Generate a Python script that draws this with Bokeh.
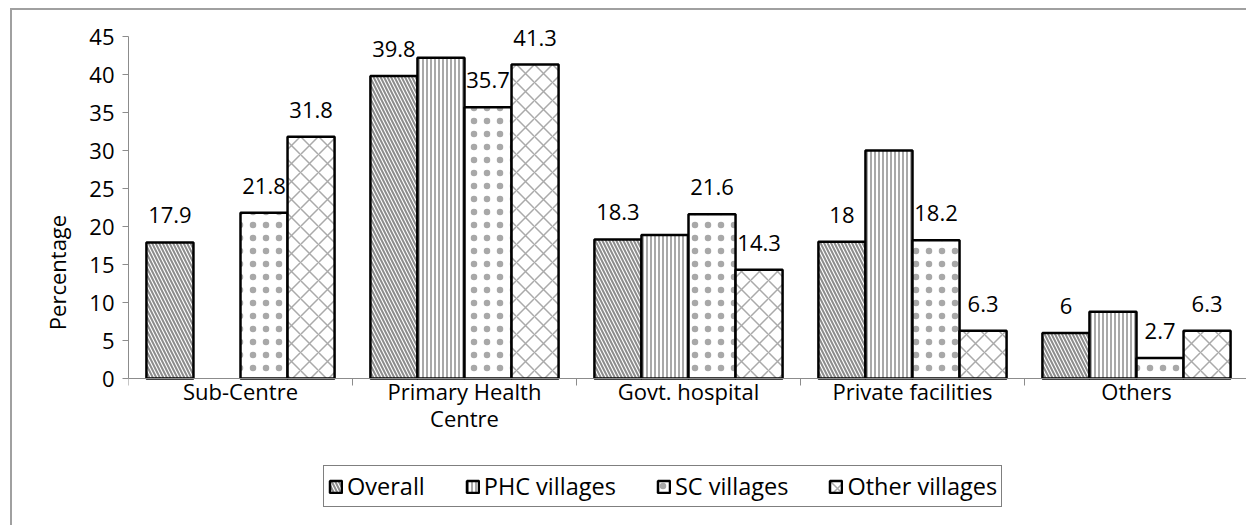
import math
from bokeh.plotting import figure
from bokeh.models import (ColumnDataSource, Range1d, LinearAxis,
                          FixedTicker, Legend, LegendItem, LabelSet)
from bokeh.core.properties import value
from bokeh.transform import dodge
from bokeh.embed import file_html
from bokeh.resources import INLINE

categories = ["Sub-Centre", "Primary Health\nCentre", "Govt. hospital", "Private facilities", "Others"]
overall = [17.9, 39.8, 18.3, 18.0, 6.0]
phc_villages = [float("nan"), 42.2, 18.9, 30.0, 8.8]
sc_villages = [21.8, 35.7, 21.6, 18.2, 2.7]
other_villages = [31.8, 41.3, 14.3, 6.3, 6.3]
series_names = ["Overall", "PHC villages", "SC villages", "Other villages"]
y_ticks = [0, 5, 10, 15, 20, 25, 30, 35, 40, 45]


def fmt(v):
    if isinstance(v, float) and math.isnan(v):
        return ""
    return ("%g" % v)


centers = [i + 0.5 for i in range(len(categories))]
bounds = list(range(len(categories) + 1))
src = ColumnDataSource(dict(
    xc=centers,
    overall=overall, phc=phc_villages, sc=sc_villages, other=other_villages,
    overall_lbl=[fmt(v) for v in overall],
    sc_lbl=[fmt(v) for v in sc_villages],
    other_lbl=[fmt(v) for v in other_villages],
))

FONT = "Open Sans"
FS = "22px"
W = 0.21
GRAY = "#8c8c8c"

# the frame runs below zero so that the category labels and legend sit inside it
p = figure(x_range=Range1d(0, len(categories)), y_range=Range1d(-19.6, 47.5),
           width=1236, height=517, output_backend="svg", toolbar_location=None,
           x_axis_location=None, y_axis_location=None,
           min_border_left=116, min_border_right=0, min_border_top=7, min_border_bottom=0)
p.outline_line_color = None
p.xgrid.visible = False
p.ygrid.visible = False
p.styles = {"margin-left": "10px", "margin-top": "8px",
            "border-left": "2px solid #a0a0a0", "border-top": "2px solid #a0a0a0"}

specs = [
    ("overall", -1.5 * W, "\\", 7, 2.0, "#8c8c8c"),
    ("phc", -0.5 * W, "|", 4, 1.5, "#8c8c8c"),
    ("sc", 0.5 * W, ".", 13, 0.6, "#a8a8a8"),
    ("other", 1.5 * W, "x", 18, 1.5, "#aaaaaa"),
]
renderers = []
for col, off, hp, hs, hw, hc in specs:
    r = p.vbar(x=dodge("xc", off), top=col, width=W, source=src,
               fill_color="white", line_color="black", line_width=2.5,
               hatch_pattern=hp, hatch_scale=hs, hatch_weight=hw, hatch_color=hc)
    renderers.append(r)

for col, off in [("overall", -1.5 * W), ("sc", 0.5 * W), ("other", 1.5 * W)]:
    lbl = LabelSet(x=dodge("xc", off), y=col, text=col + "_lbl", source=src,
                   text_align="center", text_baseline="middle", y_offset=27,
                   text_font=value(FONT), text_font_size=value(FS), text_color="black")
    p.add_layout(lbl)

# y axis
yax = LinearAxis(ticker=FixedTicker(ticks=y_ticks), bounds=(0, 45))
yax.axis_line_color = GRAY
yax.major_tick_line_color = GRAY
yax.major_tick_out = 6
yax.major_tick_in = 0
yax.minor_tick_line_color = None
yax.major_label_standoff = 8
yax.major_label_text_font = FONT
yax.major_label_text_font_size = FS
yax.major_label_text_color = "black"
yax.axis_label = "Percentage"
yax.axis_label_text_font = FONT
yax.axis_label_text_font_size = FS
yax.axis_label_text_font_style = "normal"
yax.axis_label_text_color = "black"
yax.axis_label_standoff = 14
p.add_layout(yax, "left")

# x axis at y=0: labels at group centres, ticks at group boundaries
xax = LinearAxis(ticker=FixedTicker(ticks=centers, minor_ticks=bounds), fixed_location=0,
                 major_label_overrides={c: n for c, n in zip(centers, categories)})
xax.axis_line_color = GRAY
xax.major_tick_line_color = None
xax.major_tick_out = 0
xax.major_tick_in = 0
xax.minor_tick_line_color = GRAY
xax.minor_tick_out = 7
xax.minor_tick_in = 0
xax.major_label_standoff = -10
xax.major_label_text_font = FONT
xax.major_label_text_font_size = FS
xax.major_label_text_line_height = 0.93
xax.major_label_text_color = "black"
p.add_layout(xax, "below")

legend = Legend(items=[LegendItem(label=n, renderers=[r]) for n, r in zip(series_names, renderers)],
                orientation="horizontal", location=(195, 20),
                label_text_font=FONT, label_text_font_size="23.5px", label_text_color="black",
                glyph_width=15, glyph_height=15, spacing=40, padding=4, margin=0,
                label_standoff=4,
                border_line_color="black", border_line_width=1.2,
                background_fill_color="white", background_fill_alpha=1.0)
p.add_layout(legend, "center")

open("out.html", "w").write(file_html(p, INLINE))
